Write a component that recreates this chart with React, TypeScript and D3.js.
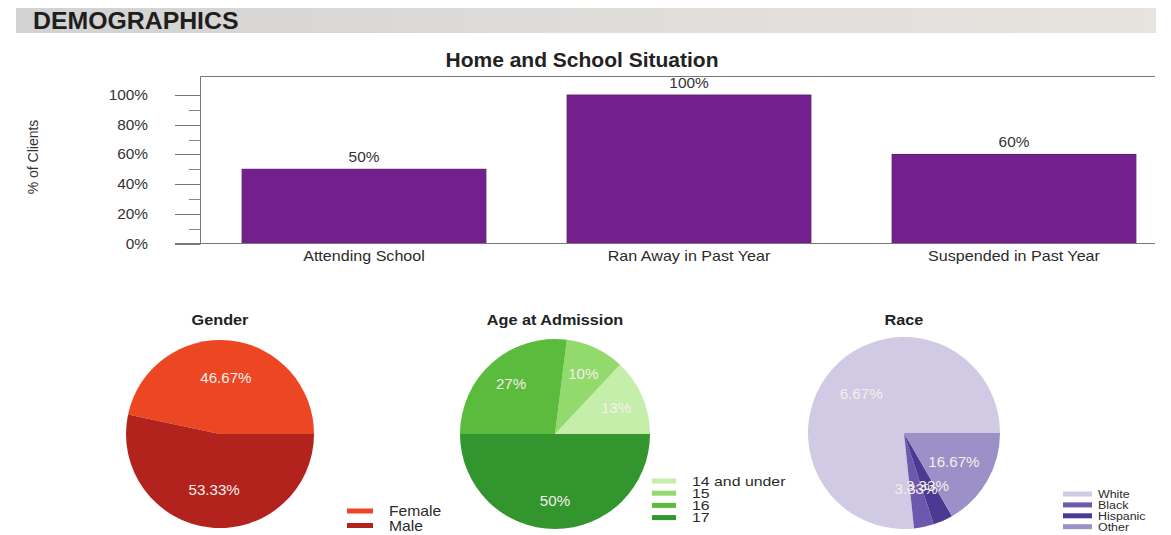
import React from "react";
import * as d3 from "d3";

// ---------- data ----------
const barCategories = ["Attending School", "Ran Away in Past Year", "Suspended in Past Year"];
const barValues = [0.5, 1.0, 0.6];
const barLabels = ["50%", "100%", "60%"];
const yTicks = [0, 0.2, 0.4, 0.6, 0.8, 1.0];
const yMinorTicks = [0.1, 0.3, 0.5, 0.7, 0.9];
const yTickLabels = ["0%", "20%", "40%", "60%", "80%", "100%"];

const genderCats = ["Female", "Male"];
const genderValues = [46.67, 53.33];
const genderLabels = ["46.67%", "53.33%"];
const genderColors = ["#ec4722", "#b3231e"];

const ageCats = ["14 and under", "15", "16", "17"];
const ageValues = [13, 10, 27, 50];
const ageLabels = ["13%", "10%", "27%", "50%"];
const ageColors = ["#c6eeab", "#93da6c", "#5bbb3c", "#32952e"];

const raceCats = ["White", "Black", "Hispanic", "Other"];
const raceValues = [76.67, 3.33, 3.33, 16.67];
const raceLabels = ["6.67%", "3.33%", "3.33%", "16.67%"];
const raceColors = ["#d0cae5", "#6c59ad", "#4b3a92", "#9b91c8"];

const FONT = "'Liberation Sans', Arial, Helvetica, sans-serif";
const TXT = "#2b2b2b";

type TProps = {
  x: number; y: number; sx?: number; anchor?: "start" | "middle" | "end";
  size: number; weight?: string | number; fill?: string; children: React.ReactNode; opacity?: number;
};
function T({ x, y, sx = 1, anchor = "start", size, weight = "normal", fill = TXT, children, opacity = 1 }: TProps) {
  return (
    <text transform={`translate(${x},${y}) scale(${sx},1)`} textAnchor={anchor} fontSize={size}
      fontWeight={weight} fill={fill} fontFamily={FONT} opacity={opacity}>{children}</text>
  );
}

type PieProps = {
  cx: number; cy: number; r: number; title: string; values: number[]; labels: string[];
  colors: string[]; labelR: number; cats: string[];
  legendX: number; legendY: number; legendStep: number; legendSize: number; legendSx: number; swW: number; gap: number;
};

function Pie(p: PieProps) {
  const pie = d3.pie<number>().sort(null).value((d) => d)
    .startAngle(Math.PI / 2).endAngle(Math.PI / 2 - 2 * Math.PI);
  const arcs = pie(p.values);
  const arc = d3.arc<d3.PieArcDatum<number>>().innerRadius(0).outerRadius(p.r);
  const labelArc = d3.arc<d3.PieArcDatum<number>>().innerRadius(p.r * p.labelR).outerRadius(p.r * p.labelR);
  return (
    <g>
      <T x={p.cx} y={325} anchor="middle" size={14.5} sx={1.12} weight="bold" fill="#222">{p.title}</T>
      <g transform={`translate(${p.cx},${p.cy})`}>
        {arcs.map((a, i) => (
          <path key={i} d={arc(a) || ""} fill={p.colors[i]} />
        ))}
        {arcs.map((a, i) => {
          const [lx, ly] = labelArc.centroid(a);
          return (
            <T key={"l" + i} x={lx} y={ly + 5} anchor="middle" size={14} sx={1.08} fill="#f6eeea">{p.labels[i]}</T>
          );
        })}
      </g>
      {p.cats.map((c, i) => {
        const yy = p.legendY + i * p.legendStep;
        return (
          <g key={"lg" + i}>
            <rect x={p.legendX} y={yy - 2.5} width={p.swW} height={5} fill={p.colors[i]} />
            <T x={p.legendX + p.swW + p.gap} y={yy + p.legendSize * 0.36} size={p.legendSize} sx={p.legendSx}>{c}</T>
          </g>
        );
      })}
    </g>
  );
}

export default function App() {
  const W = 1171, H = 535;
  const axisX = 200.5;
  const plotRight = 1155;
  const base = 243.5;
  const y = d3.scaleLinear().domain([0, 1.125]).range([base, 76.5]);
  const x = d3.scaleBand<string>().domain(barCategories).range([201.5, 1176.5]).paddingInner(0.25).paddingOuter(0.125);

  return (
    <svg width={W} height={H} style={{ position: "absolute", left: 0, top: 0, background: "#fff" }}>
      <defs>
        <linearGradient id="hdr" x1="0" x2="1" y1="0" y2="0">
          <stop offset="0" stopColor="#d2d2d2" />
          <stop offset="0.4" stopColor="#dddbd9" />
          <stop offset="1" stopColor="#e7e3df" />
        </linearGradient>
      </defs>
      {/* header band */}
      <rect x={16} y={8} width={1140} height={25} fill="url(#hdr)" />
      <T x={33} y={29} size={23} sx={1.08} weight="bold" fill="#1e1e1e">DEMOGRAPHICS</T>

      {/* bar chart */}
      <T x={582} y={67} anchor="middle" size={21} weight="bold" fill="#222">Home and School Situation</T>
      <g transform="translate(33,157) rotate(-90)">
        <text textAnchor="middle" fontSize={14} fontFamily={FONT} fill="#333" dy={5}>% of Clients</text>
      </g>
      <line x1={axisX} x2={plotRight} y1={y(1.125)} y2={y(1.125)} stroke="#777" strokeWidth={1} />
      <line x1={axisX} x2={axisX} y1={y(1.125)} y2={base} stroke="#777" strokeWidth={1} />
      {yTicks.map((t, i) => (
        <g key={"t" + i}>
          <line x1={175} x2={axisX} y1={Math.round(y(t)) + 0.5} y2={Math.round(y(t)) + 0.5} stroke="#777" />
          <T x={148} y={y(t) + 5} anchor="end" size={14} sx={1.1} fill="#333">{yTickLabels[i]}</T>
        </g>
      ))}
      {yMinorTicks.map((t, i) => (
        <line key={"m" + i} x1={189} x2={axisX} y1={Math.round(y(t)) + 0.5} y2={Math.round(y(t)) + 0.5} stroke="#888" />
      ))}
      {barCategories.map((c, i) => {
        const bx = x(c)!;
        const bw = x.bandwidth();
        return (
          <g key={"b" + i}>
            <rect x={bx} y={y(barValues[i])} width={bw} height={base - y(barValues[i])} fill="#731f8e" stroke="#5b1a70" strokeWidth={1} />
            <T x={bx + bw / 2} y={y(barValues[i]) - 7} anchor="middle" size={14} sx={1.1} fill="#333">{barLabels[i]}</T>
            <T x={bx + bw / 2} y={261} anchor="middle" size={14} sx={1.15} fill="#2b2b2b">{c}</T>
          </g>
        );
      })}
      <line x1={175} x2={plotRight} y1={base} y2={base} stroke="#777" strokeWidth={1} />

      {/* pies */}
      <Pie cx={220} cy={434} r={94} title="Gender" values={genderValues} labels={genderLabels} colors={genderColors}
        labelR={0.6} cats={genderCats} legendX={347} legendY={511} legendStep={14.5} legendSize={14} legendSx={1.12} swW={26} gap={16} />
      <Pie cx={555} cy={434} r={95} title="Age at Admission" values={ageValues} labels={ageLabels} colors={ageColors}
        labelR={0.7} cats={ageCats} legendX={652} legendY={481} legendStep={12.2} legendSize={13} legendSx={1.22} swW={24} gap={16} />
      <Pie cx={904} cy={433} r={96} title="Race" values={raceValues} labels={raceLabels} colors={raceColors}
        labelR={0.6} cats={raceCats} legendX={1063} legendY={494} legendStep={10.9} legendSize={11.5} legendSx={1.08} swW={29} gap={6} />
    </svg>
  );
}
